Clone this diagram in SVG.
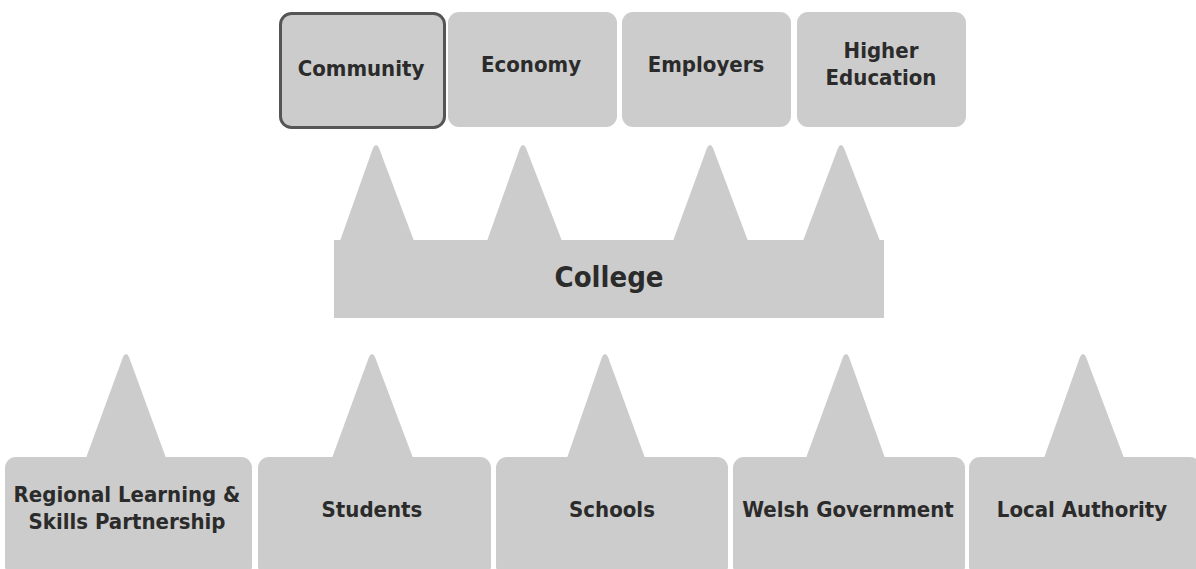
<svg xmlns="http://www.w3.org/2000/svg" width="1196" height="569" viewBox="0 0 1196 569">
<style>
.box{fill:#cccccc;}
.tri{fill:#cccccc;}
.lbl{font-family:"DejaVu Sans Condensed","DejaVu Sans",sans-serif;font-stretch:condensed;font-weight:bold;font-size:22px;fill:#2b2b2b;text-anchor:middle;}
.big{font-size:29px;}
</style>
<rect width="1196" height="569" fill="#ffffff"/>
<g id="connectors">
<path class="tri" d="M340,241 L373,148 Q376,142 379,148 L414,241 Z"/>
<path class="tri" d="M487,241 L520,148 Q523,142 526,148 L562,241 Z"/>
<path class="tri" d="M673,241 L707,148 Q710,142 713,148 L748,241 Z"/>
<path class="tri" d="M803,241 L838,148 Q841,142 844,148 L880,241 Z"/>
<path class="tri" d="M86,458 L123,357 Q126,351 129,357 L166,458 Z"/>
<path class="tri" d="M332,458 L369,357 Q372,351 375,357 L413,458 Z"/>
<path class="tri" d="M567,458 L602,357 Q605,351 608,357 L645,458 Z"/>
<path class="tri" d="M806,458 L843,357 Q846,351 849,357 L885,458 Z"/>
<path class="tri" d="M1044,458 L1080,357 Q1083,351 1086,357 L1124,458 Z"/>
</g>
<g id="node-community">
<rect x="280.5" y="13.5" width="164" height="114" rx="11" class="box" stroke="#555555" stroke-width="3"/>
<text class="lbl" x="361" y="76">Community</text>
</g>
<g id="node-economy">
<rect x="448" y="12" width="169" height="115" rx="11" class="box"/>
<text class="lbl" x="531" y="72">Economy</text>
</g>
<g id="node-employers">
<rect x="622" y="12" width="169" height="115" rx="11" class="box"/>
<text class="lbl" x="706" y="72">Employers</text>
</g>
<g id="node-higher-education">
<rect x="797" y="12" width="169" height="115" rx="11" class="box"/>
<text class="lbl" x="881" y="58">Higher</text>
<text class="lbl" x="881" y="85">Education</text>
</g>
<g id="node-college">
<rect x="334" y="240" width="550" height="78" class="box"/>
<text class="lbl big" x="609" y="287">College</text>
</g>
<g id="node-rlsp">
<rect x="5" y="457" width="247" height="120" rx="11" class="box"/>
<text class="lbl" x="127" y="502">Regional Learning &amp;</text>
<text class="lbl" x="127" y="529">Skills Partnership</text>
</g>
<g id="node-students">
<rect x="258" y="457" width="233" height="120" rx="11" class="box"/>
<text class="lbl" x="372" y="517">Students</text>
</g>
<g id="node-schools">
<rect x="496" y="457" width="232" height="120" rx="11" class="box"/>
<text class="lbl" x="612" y="517">Schools</text>
</g>
<g id="node-welsh-government">
<rect x="733" y="457" width="232" height="120" rx="11" class="box"/>
<text class="lbl" x="848" y="517">Welsh Government</text>
</g>
<g id="node-local-authority">
<rect x="969" y="457" width="232" height="120" rx="11" class="box"/>
<text class="lbl" x="1082" y="517">Local Authority</text>
</g>
</svg>
